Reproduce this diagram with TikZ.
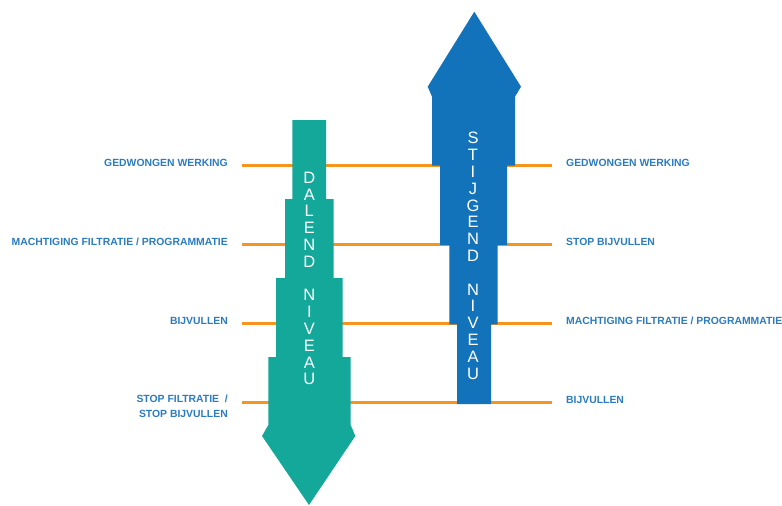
\documentclass[tikz,border=0pt]{standalone}
\usepackage{fontspec}
\setmainfont{Liberation Sans}
\usetikzlibrary{positioning}
\definecolor{teal}{HTML}{14A89A}
\definecolor{blauw}{HTML}{1373BA}
\definecolor{oranje}{HTML}{F7941D}
\definecolor{tekstblauw}{HTML}{2B7BC0}

\begin{document}
\begin{tikzpicture}[x=1pt, y=-1pt,
      lijn/.style={oranje, line width=3pt},
      etiket/.style={text=tekstblauw, font=\bfseries\fontsize{10.4}{15}\selectfont,
        inner sep=0pt, yshift=2pt},
      pijltekst/.style={text=white, align=center, inner sep=0pt,
        font=\fontsize{16.5}{16.8}\selectfont}]
    \useasboundingbox (0,0) rectangle (782,506);
    \coordinate (g1) at (242,165);
    \coordinate (d1) at (552,165);
    \coordinate (g2) at (242,244);
    \coordinate (d2) at (552,244);
    \coordinate (g3) at (242,323);
    \coordinate (d3) at (552,323);
    \coordinate (g4) at (242,402);
    \coordinate (d4) at (552,402);
    \draw[lijn] (g1) -- (d1);
    \draw[lijn] (g2) -- (d2);
    \draw[lijn] (g3) -- (d3);
    \draw[lijn] (g4) -- (d4);
    \fill[teal] (292.3,120) -- (326,120) -- (326,199) -- (333.7,199) -- (333.7,278)
      -- (342.7,278) -- (342.7,357) -- (350.7,357) -- (350.7,425) -- (355.3,436)
      -- (309,505) -- (262,436) -- (268.3,425) -- (268.3,357) -- (276,357)
      -- (276,278) -- (285,278) -- (285,199) -- (292.3,199) -- cycle;
    \fill[blauw] (474.3,11.7) -- (521,86.7) -- (515,96.7) -- (515,165.5) -- (507,165.5)
      -- (507,245) -- (497.7,245) -- (497.7,324.3) -- (491,324.3) -- (491,404)
      -- (457,404) -- (457,324.3) -- (449.3,324.3) -- (449.3,245) -- (440,245)
      -- (440,165.5) -- (432,165.5) -- (432,96.7) -- (427.7,86.7) -- cycle;
    \node[pijltekst] (dalend) at (309.3,278.5)
      {D\\A\\L\\E\\N\\D\\~\\N\\I\\V\\E\\A\\U};
    \node[pijltekst] (stijgend) at (473,255.8)
      {S\\T\\I\\J\\G\\E\\N\\D\\~\\N\\I\\V\\E\\A\\U};
    \node[etiket, left=14pt of g1] (l1) {GEDWONGEN WERKING};
    \node[etiket, left=14pt of g2] (l2) {MACHTIGING FILTRATIE / PROGRAMMATIE};
    \node[etiket, left=14pt of g3] (l3) {BIJVULLEN};
    \node[etiket, left=14pt of g4, align=right, yshift=-6.5pt] (l4)
      {STOP FILTRATIE~~/\\STOP BIJVULLEN};
    \node[etiket, right=14pt of d1] (r1) {GEDWONGEN WERKING};
    \node[etiket, right=14pt of d2] (r2) {STOP BIJVULLEN};
    \node[etiket, right=14pt of d3] (r3) {MACHTIGING FILTRATIE / PROGRAMMATIE};
    \node[etiket, right=14pt of d4] (r4) {BIJVULLEN};
  \end{tikzpicture}
\end{document}
